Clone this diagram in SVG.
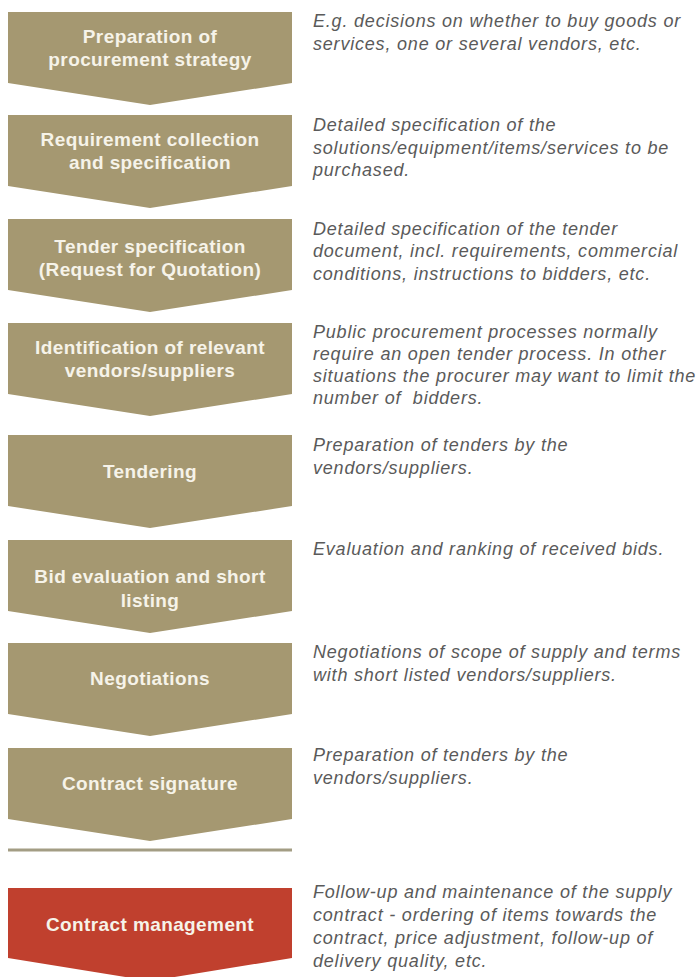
<svg xmlns="http://www.w3.org/2000/svg" width="700" height="977" viewBox="0 0 700 977">
  <style>
    .chev { fill: #a59871; }
    .chev-red { fill: #c0402e; }
    .lbl { font-family: "Liberation Sans", Arial, sans-serif; font-weight: bold; font-size: 19px; letter-spacing: 0.4px; fill: #f6f3e9; text-anchor: middle; }
    .desc { font-family: "Liberation Sans", Arial, sans-serif; font-style: italic; font-size: 18px; letter-spacing: 0.8px; fill: #5a5a5a; }
    .divider { stroke: #a39d84; stroke-width: 3; }
  </style>
  <rect width="700" height="977" fill="#ffffff"/>

  <g id="step1">
    <polygon class="chev" points="8,12 292,12 292,83 150,105 8,83"/>
    <text class="lbl" x="150" y="43">Preparation of</text>
    <text class="lbl" x="150" y="66">procurement strategy</text>
    <text class="desc" x="313" y="27">E.g. decisions on whether to buy goods or</text>
    <text class="desc" x="313" y="50">services, one or several vendors, etc.</text>
  </g>

  <g id="step2">
    <polygon class="chev" points="8,115 292,115 292,186 150,208 8,186"/>
    <text class="lbl" x="150" y="146">Requirement collection</text>
    <text class="lbl" x="150" y="169">and specification</text>
    <text class="desc" x="313" y="131">Detailed specification of the</text>
    <text class="desc" x="313" y="154">solutions/equipment/items/services to be</text>
    <text class="desc" x="313" y="176">purchased.</text>
  </g>

  <g id="step3">
    <polygon class="chev" points="8,219 292,219 292,290 150,312 8,290"/>
    <text class="lbl" x="150" y="253">Tender specification</text>
    <text class="lbl" x="150" y="276">(Request for Quotation)</text>
    <text class="desc" x="313" y="235">Detailed specification of the tender</text>
    <text class="desc" x="313" y="257">document, incl. requirements, commercial</text>
    <text class="desc" x="313" y="280">conditions, instructions to bidders, etc.</text>
  </g>

  <g id="step4">
    <polygon class="chev" points="8,323 292,323 292,394 150,416 8,394"/>
    <text class="lbl" x="150" y="354">Identification of relevant</text>
    <text class="lbl" x="150" y="377">vendors/suppliers</text>
    <text class="desc" x="313" y="338">Public procurement processes normally</text>
    <text class="desc" x="313" y="360">require an open tender process. In other</text>
    <text class="desc" x="313" y="382">situations the procurer may want to limit the</text>
    <text class="desc" x="313" y="404">number of&#160; bidders.</text>
  </g>

  <g id="step5">
    <polygon class="chev" points="8,435 292,435 292,506 150,528 8,506"/>
    <text class="lbl" x="150" y="478">Tendering</text>
    <text class="desc" x="313" y="451">Preparation of tenders by the</text>
    <text class="desc" x="313" y="474">vendors/suppliers.</text>
  </g>

  <g id="step6">
    <polygon class="chev" points="8,540 292,540 292,611 150,633 8,611"/>
    <text class="lbl" x="150" y="583">Bid evaluation and short</text>
    <text class="lbl" x="150" y="607">listing</text>
    <text class="desc" x="313" y="555">Evaluation and ranking of received bids.</text>
  </g>

  <g id="step7">
    <polygon class="chev" points="8,643 292,643 292,714 150,736 8,714"/>
    <text class="lbl" x="150" y="685">Negotiations</text>
    <text class="desc" x="313" y="658">Negotiations of scope of supply and terms</text>
    <text class="desc" x="313" y="681">with short listed vendors/suppliers.</text>
  </g>

  <g id="step8">
    <polygon class="chev" points="8,748 292,748 292,819 150,841 8,819"/>
    <text class="lbl" x="150" y="790">Contract signature</text>
    <text class="desc" x="313" y="761">Preparation of tenders by the</text>
    <text class="desc" x="313" y="784">vendors/suppliers.</text>
  </g>

  <g id="connectors">
    <line class="divider" x1="8" y1="850" x2="292" y2="850"/>
  </g>

  <g id="step9">
    <polygon class="chev-red" points="8,888 292,888 292,958 150,981 8,958"/>
    <text class="lbl" x="150" y="931">Contract management</text>
    <text class="desc" x="313" y="898">Follow-up and maintenance of the supply</text>
    <text class="desc" x="313" y="921">contract - ordering of items towards the</text>
    <text class="desc" x="313" y="944">contract, price adjustment, follow-up of</text>
    <text class="desc" x="313" y="967">delivery quality, etc.</text>
  </g>
</svg>
